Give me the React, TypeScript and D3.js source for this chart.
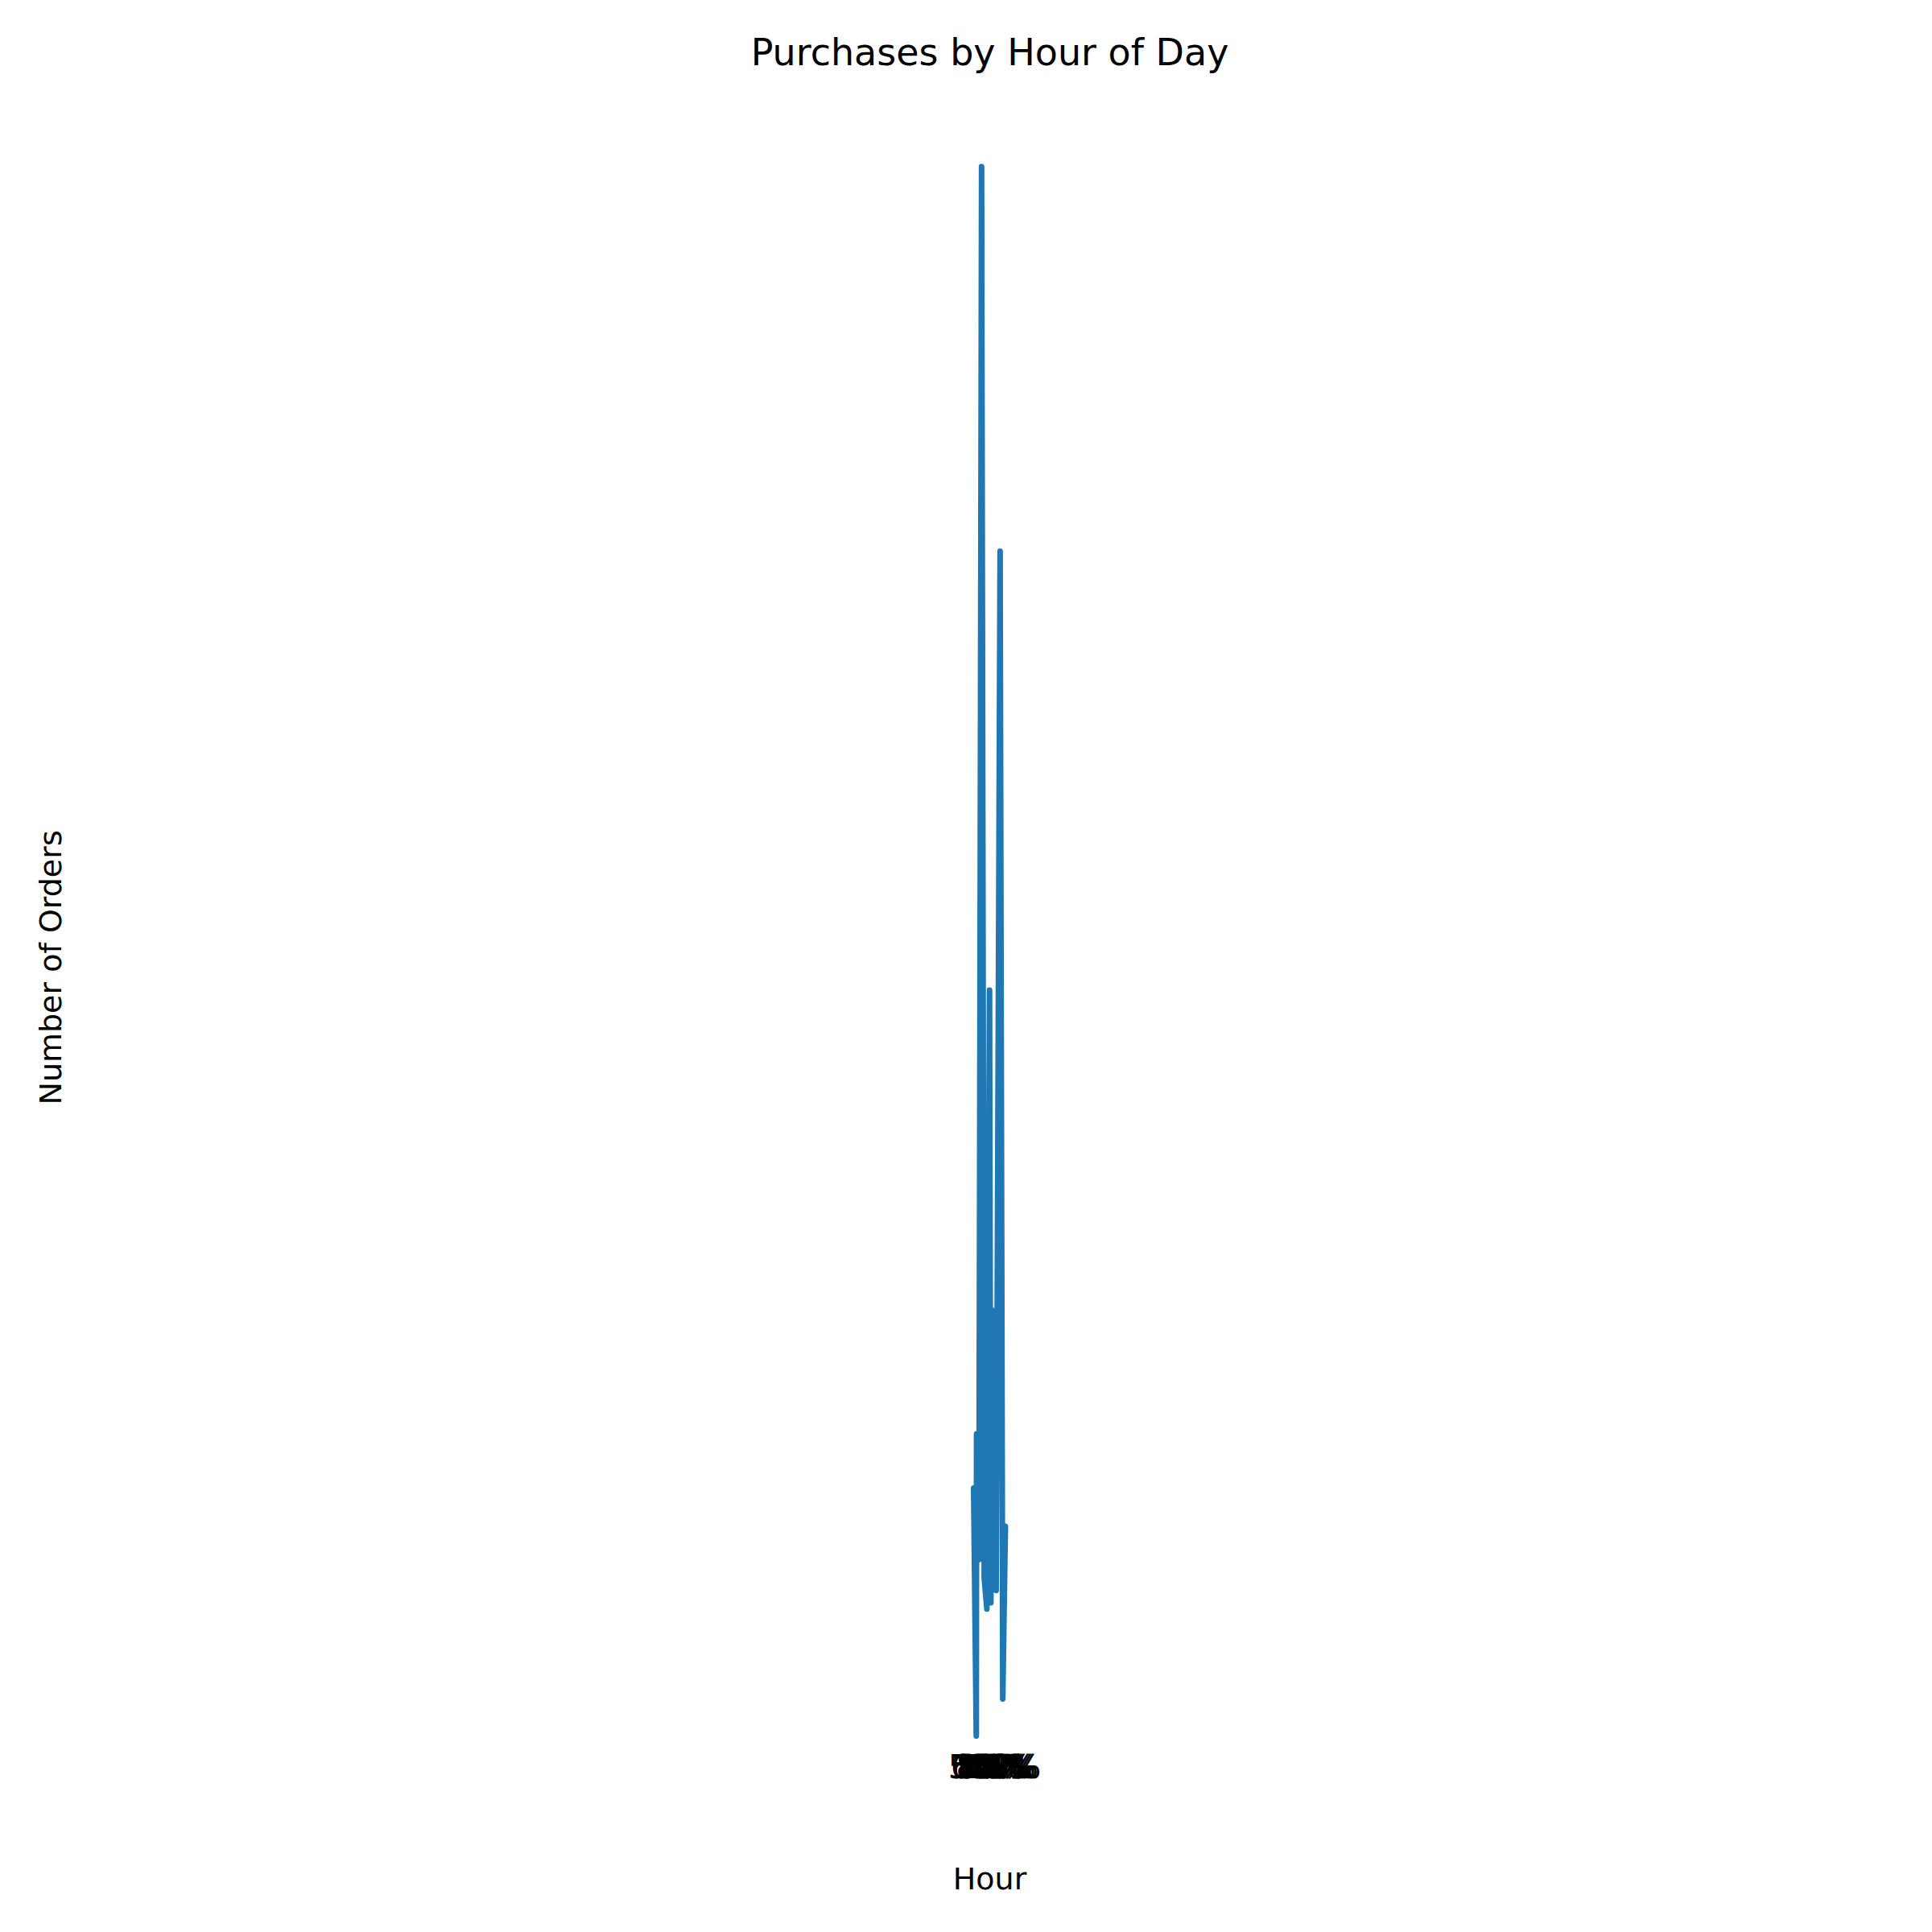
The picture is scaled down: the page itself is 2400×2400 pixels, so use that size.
import React from 'react'
import * as d3 from 'd3'

// share of daily orders (x) and number of orders (y)
const sharePct = [5, 6, 6.1, 7, 8, 9, 10, 11, 11.5, 12.5, 13.5, 15, 16, 17]
const orders = [201, 0, 245, 143, 1273, 128, 103, 605, 108, 345, 118, 961, 30, 170]
const tickLabels = ['5%', '6%', '6%', '7%', '8%', '9%', '10%', '11%', '12%', '13%', '14%', '15%', '16%', '17%']

const W = 2400
const H = 2400
const k = 0.986

export default function App() {
  const x = d3.scaleLinear().domain([-318, 342]).range([150 * k, 2350 * k])
  const y = d3.scaleLinear().domain([0, 1273]).range([2187 * k, 210 * k])
  const pts = sharePct.map((p, i) => [x(p), y(orders[i])] as [number, number])
  const path = d3.line()(pts) ?? ''
  const font = 'DejaVu Sans, sans-serif'

  return (
    <svg width={W} height={H} style={{ display: 'block', margin: -8, background: '#fff' }} fontFamily={font}>
      <text x={1247 * k} y={82 * k} textAnchor="middle" fontSize={46}>Purchases by Hour of Day</text>
      <path d={path} fill="none" stroke="#1f77b4" strokeWidth={7} strokeLinejoin="round" strokeLinecap="round" />
      {sharePct.map((p, i) => (
        <text key={i} x={x(p)} y={2240 * k} textAnchor="middle" fontSize={40}>{tickLabels[i]}</text>
      ))}
      <text x={1247 * k} y={2380 * k} textAnchor="middle" fontSize={38}>Hour</text>
      <text transform="rotate(-90)" x={-1219 * k} y={76} textAnchor="middle" fontSize={38}>Number of Orders</text>
    </svg>
  )
}
